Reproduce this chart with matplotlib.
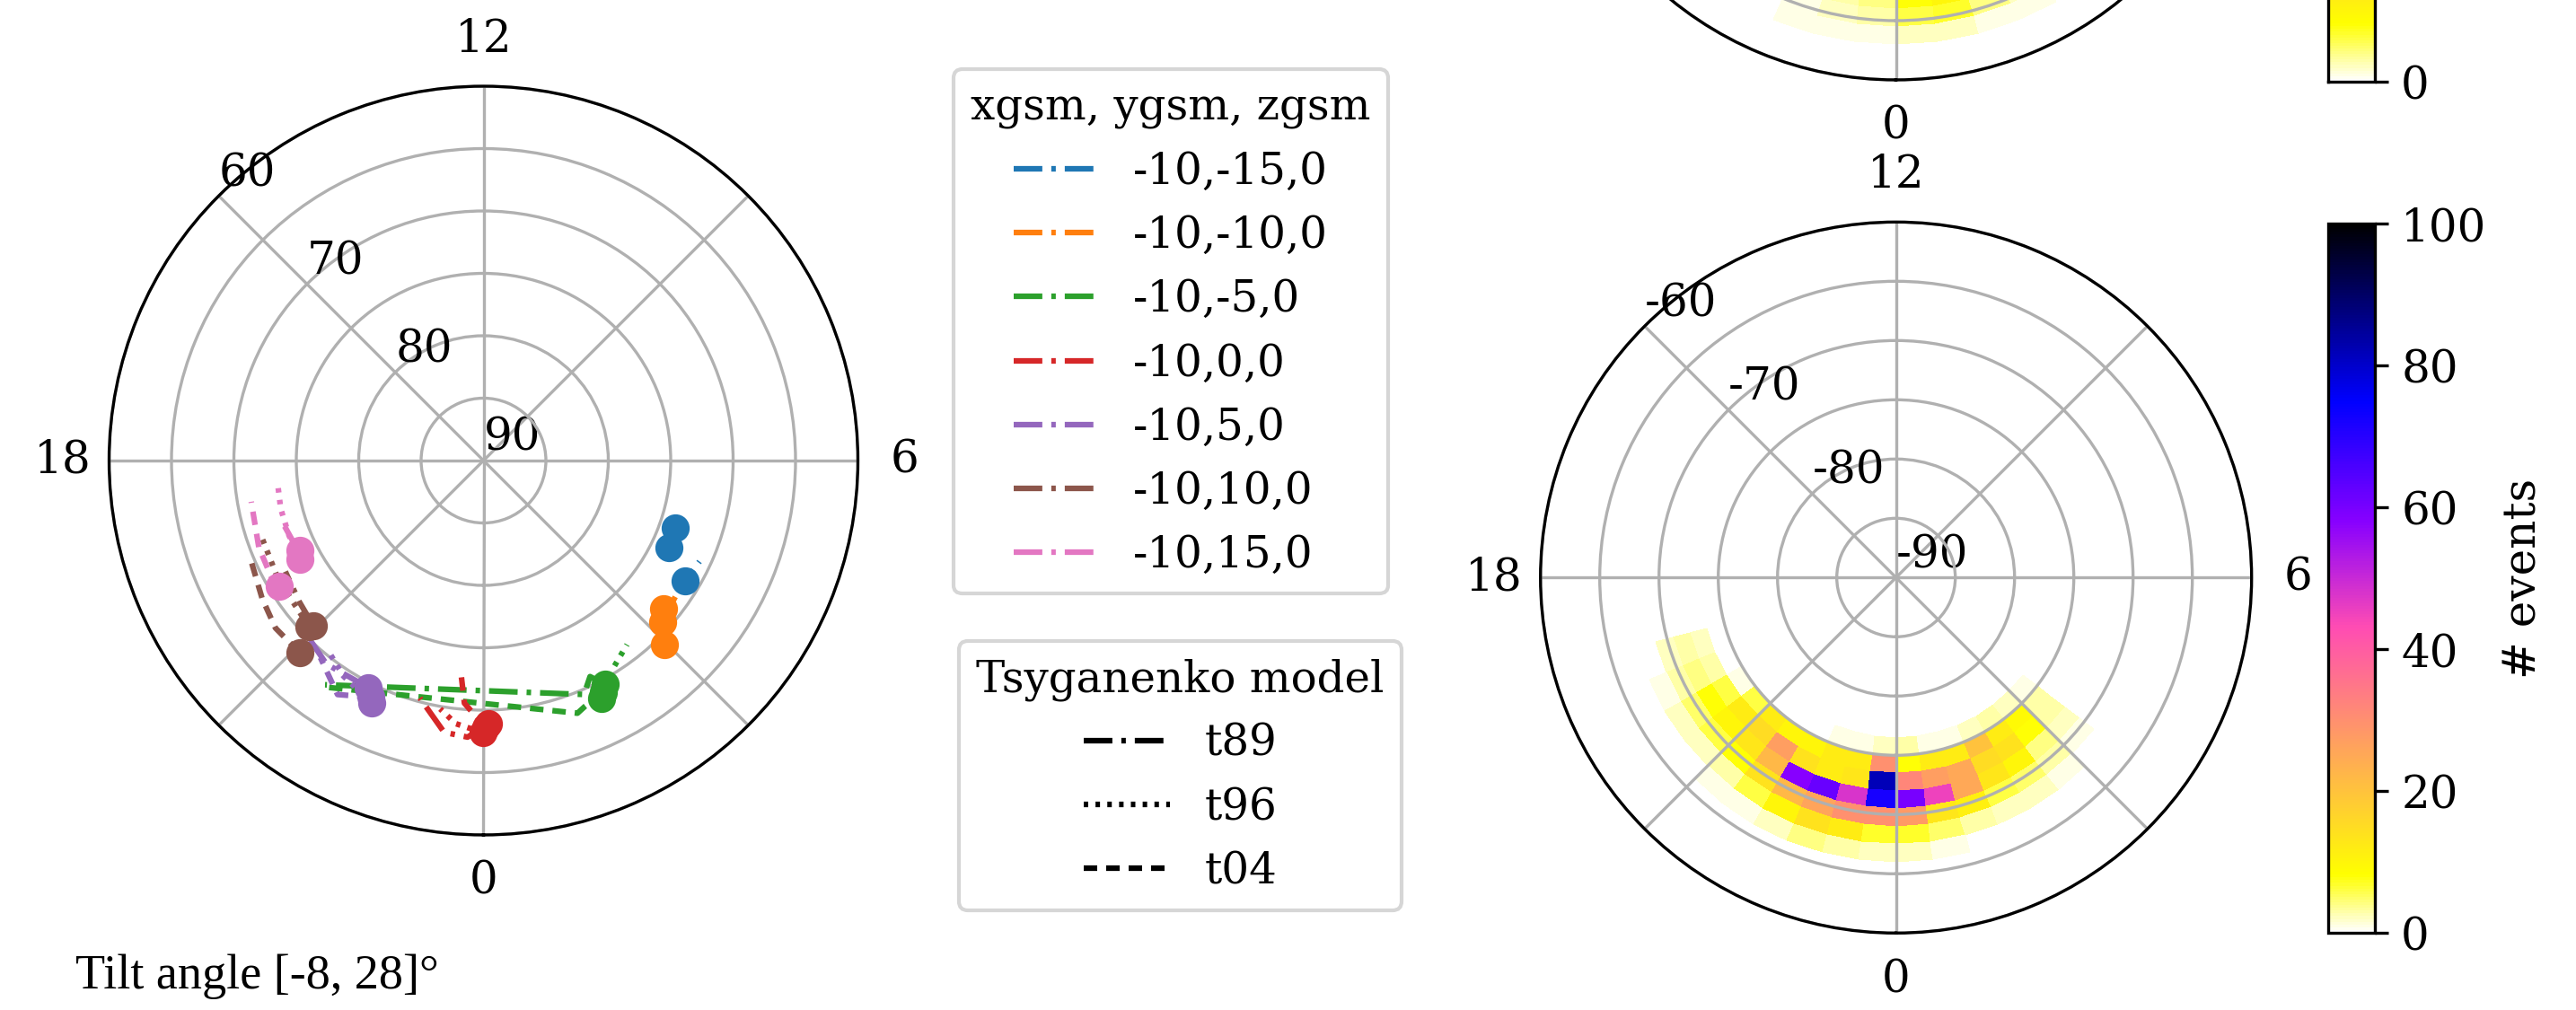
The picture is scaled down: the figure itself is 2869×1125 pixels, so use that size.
import numpy as np
import matplotlib
matplotlib.use("Agg")
import matplotlib.pyplot as plt
from matplotlib.lines import Line2D

# ---------------------------------------------------------------------------
# Field-line footpoints for seven GSM start positions, traced with three
# Tsyganenko models over the tilt-angle range.  Each track is (MLT [h],
# colatitude [deg]); the first point of every track is marked with a dot.
# ---------------------------------------------------------------------------
start_labels = ['-10,-15,0', '-10,-10,0', '-10,-5,0', '-10,0,0',
                '-10,5,0', '-10,10,0', '-10,15,0']
start_colors = ['C0', 'C1', 'C2', 'C3', 'C4', 'C5', 'C6']
model_names = ['t89', 't96', 't04']

y_m15_t89 = ([4.71, 4.74, 4.78], [16.3, 16.0, 15.8])
y_m15_t96 = ([4.32, 4.42, 4.50], [16.4, 16.35, 16.3])
y_m15_t04 = ([3.95, 4.15, 4.33], [18.8, 18.95, 19.1])

y_m10_t89 = ([3.37, 3.30, 3.22], [18.7, 18.9, 19.2])
y_m10_t96 = ([3.20, 3.45, 3.64], [19.3, 19.0, 18.85])
y_m10_t04 = ([2.97, 3.05, 3.15], [20.7, 20.2, 19.7])

y_m5_t89 = ([1.90, 1.75, 1.55, 21.65], [20.4, 19.3, 20.4, 22.0])
y_m5_t96 = ([1.76, 2.10, 2.53], [21.3, 19.7, 18.7])
y_m5_t04 = ([1.82, 1.50, 1.36, 21.70], [20.9, 21.3, 21.6, 22.05])

y_0_t89 = ([0.07, 23.78, 23.45, 23.00], [21.1, 22.2, 22.0, 19.7])
y_0_t96 = ([23.99, 23.60, 23.34], [21.8, 21.2, 20.2])
y_0_t04 = ([0.03, 23.70, 23.60], [21.4, 19.5, 17.2])

y_p5_t89 = ([22.21, 21.49, 21.07], [20.4, 20.6, 20.0])
y_p5_t96 = ([22.35, 21.80, 21.45], [21.4, 20.6, 19.8])
y_p5_t04 = ([22.30, 21.87, 21.36], [21.0, 22.1, 20.5])

y_p10_t89 = ([20.94, 20.50, 19.95], [19.0, 18.6, 18.2])
y_p10_t96 = ([20.90, 20.00, 19.29], [19.3, 19.0, 18.8])
y_p10_t04 = ([21.08, 20.59, 20.13, 19.58], [21.3, 21.4, 20.9, 20.3])

y_p15_t89 = ([19.74, 19.50, 19.20], [16.4, 16.6, 16.8])
y_p15_t96 = ([19.89, 19.41, 18.89, 18.39], [16.7, 16.7, 16.7, 16.6])
y_p15_t04 = ([20.11, 19.93, 19.41, 18.67], [19.2, 19.4, 19.3, 18.9])

tracks = [
    (y_m15_t89, y_m15_t96, y_m15_t04),
    (y_m10_t89, y_m10_t96, y_m10_t04),
    (y_m5_t89, y_m5_t96, y_m5_t04),
    (y_0_t89, y_0_t96, y_0_t04),
    (y_p5_t89, y_p5_t96, y_p5_t04),
    (y_p10_t89, y_p10_t96, y_p10_t04),
    (y_p15_t89, y_p15_t96, y_p15_t04),
]

# ---------------------------------------------------------------------------
# Event histogram, southern hemisphere (rows: colatitude bins, cols: MLT bins)
# ---------------------------------------------------------------------------
south_mlt_edges = [19.0, 19.5, 20.0, 20.5, 21.0, 21.5, 22.0, 22.5, 23.0, 23.5,
                   0.0, 0.5, 1.0, 1.5, 2.0, 2.5, 3.0, 3.5]
south_colat_edges = [13.5, 15.0, 16.5, 18.0, 19.5, 21.0, 22.5, 24.0]
south_counts = [
    # 19.0 ...                                  23.5  0.0 ...
    [0, 0, 0, 0, 0, 0, 0, 1, 1, 2, 3, 1, 1, 2, 3, 2, 1],
    [0, 0, 1, 6, 12, 10, 10, 12, 12, 30, 8, 12, 12, 20, 12, 9, 3],
    [2, 3, 6, 12, 15, 27, 14, 12, 13, 82, 32, 27, 25, 15, 14, 8, 3],
    [3, 4, 8, 10, 13, 22, 58, 62, 48, 72, 60, 45, 25, 13, 10, 4, 2],
    [2, 3, 5, 6, 8, 14, 22, 26, 30, 30, 28, 13, 11, 6, 5, 3, 1],
    [0, 1, 2, 2, 3, 6, 10, 14, 12, 7, 7, 5, 3, 2, 2, 1, 0],
    [0, 0, 0, 0, 1, 1, 2, 4, 3, 2, 2, 1, 0, 0, 0, 0, 0],
]

# Event histogram, northern hemisphere (only its night side is in view)
north_mlt_edges = [22.5, 23.0, 23.5, 0.0, 0.5, 1.0, 1.5, 2.0]
north_colat_edges = [22.5, 24.0, 25.5, 27.0]
north_counts = [
    [2, 3, 4, 8, 10, 7, 3],
    [1, 2, 3, 6, 7, 4, 2],
    [1, 1, 1, 2, 2, 1, 1],
]

south_lat_labels = ['-90', '', '-80', '', '-70', '', '-60']
north_lat_labels = ['90', '', '80', '', '70', '', '60']
mlt_labels = ['0', '', '6', '', '12', '', '18', '']
cbar_ticks = [0, 20, 40, 60, 80, 100]

# ---------------------------------------------------------------------------
plt.rcParams['font.family'] = ['DejaVu Serif']
plt.rcParams['font.size'] = 12
plt.rcParams['xtick.major.pad'] = 2

W, H, DPI = 2869, 1125, 300
fig = plt.figure(figsize=(W / DPI, H / DPI), dpi=DPI)

DASHDOT = (0, (5.1, 1.6, 0.8, 1.6))
DOTTED = (0, (0.8, 1.3))
DASHED = (0, (2.4, 1.6))
model_styles = [DASHDOT, DOTTED, DASHED]


def box(cx, cy, r):
    """Axes rectangle from a centre and radius given in pixels (top-left origin)."""
    return [(cx - r) / W, 1 - (cy + r) / H, 2 * r / W, 2 * r / H]


def dial(ax, lat_labels):
    ax.set_theta_zero_location('S')
    ax.set_theta_direction(1)
    ax.set_ylim(0, 30)
    ax.set_yticks(np.arange(0, 31, 5))
    ax.set_yticklabels(lat_labels)
    ax.set_rlabel_position(225)
    ax.set_xticks(np.radians(np.arange(0, 360, 45)))
    ax.set_xticklabels(mlt_labels)
    ax.grid(True, color='#b0b0b0', lw=0.8)


def mlt_to_theta(h):
    return np.unwrap(np.radians(np.asarray(h, dtype=float) * 15.0))


# ---- footpoint dial -------------------------------------------------------
ax_fp = fig.add_axes(box(538.5, 513, 417), projection='polar')
dial(ax_fp, north_lat_labels)
for color, trio in zip(start_colors, tracks):
    for style, (mlt, colat) in zip(model_styles, trio):
        th = np.radians(np.asarray(mlt) * 15.0)
        ax_fp.plot(th, colat, color=color, ls=style, lw=1.5)
        ax_fp.plot(th[:1], colat[:1], 'o', color=color, ms=6.5)
ax_fp.set_ylim(0, 30)

fig.text(84 / W, 1 - 1088 / H, 'Tilt angle [-8, 28]°', va='center', ha='left',
         family=['Liberation Serif', 'DejaVu Serif'], fontsize=13.0)

# ---- legends --------------------------------------------------------------
LEG_FS = 11.6
pos_handles = [Line2D([], [], color=c, ls=DASHDOT, lw=1.5) for c in start_colors]
fig.legend(pos_handles, start_labels, title='xgsm, ygsm, zgsm',
           loc='upper left', bbox_to_anchor=(1062 / W, 1 - 77 / H),
           bbox_transform=fig.transFigure, borderaxespad=0,
           fontsize=LEG_FS, title_fontsize=LEG_FS,
           handlelength=1.85, handletextpad=0.9)
mod_handles = [Line2D([], [], color='k', ls=s, lw=1.5) for s in model_styles]
fig.legend(mod_handles, model_names, title='Tsyganenko model',
           loc='upper left', bbox_to_anchor=(1068 / W, 1 - 714 / H),
           bbox_transform=fig.transFigure, borderaxespad=0,
           fontsize=LEG_FS, title_fontsize=LEG_FS)

# ---- histograms -----------------------------------------------------------
cmap = plt.get_cmap('gnuplot2_r')

ax_n = fig.add_axes(box(2111.5, -307, 396), projection='polar')
dial(ax_n, north_lat_labels)
mesh_n = ax_n.pcolormesh(mlt_to_theta(north_mlt_edges), north_colat_edges,
                         np.ma.masked_equal(north_counts, 0), cmap=cmap,
                         vmin=0, vmax=100, shading='flat')
ax_n.set_ylim(0, 30)

ax_s = fig.add_axes(box(2111.7, 643.3, 396), projection='polar')
dial(ax_s, south_lat_labels)
mesh_s = ax_s.pcolormesh(mlt_to_theta(south_mlt_edges), south_colat_edges,
                         np.ma.masked_equal(south_counts, 0), cmap=cmap,
                         vmin=0, vmax=100, shading='flat')
ax_s.set_ylim(0, 30)

cax_n = fig.add_axes([2593 / W, 1 - 91 / H, 52 / W, 790 / H])
fig.colorbar(mesh_n, cax=cax_n, ticks=cbar_ticks)
cax_s = fig.add_axes([2593 / W, 1 - 1039 / H, 52 / W, 790 / H])
cb = fig.colorbar(mesh_s, cax=cax_s, ticks=cbar_ticks)
cb.set_label('# events')

fig.savefig('out.png', dpi=DPI)
